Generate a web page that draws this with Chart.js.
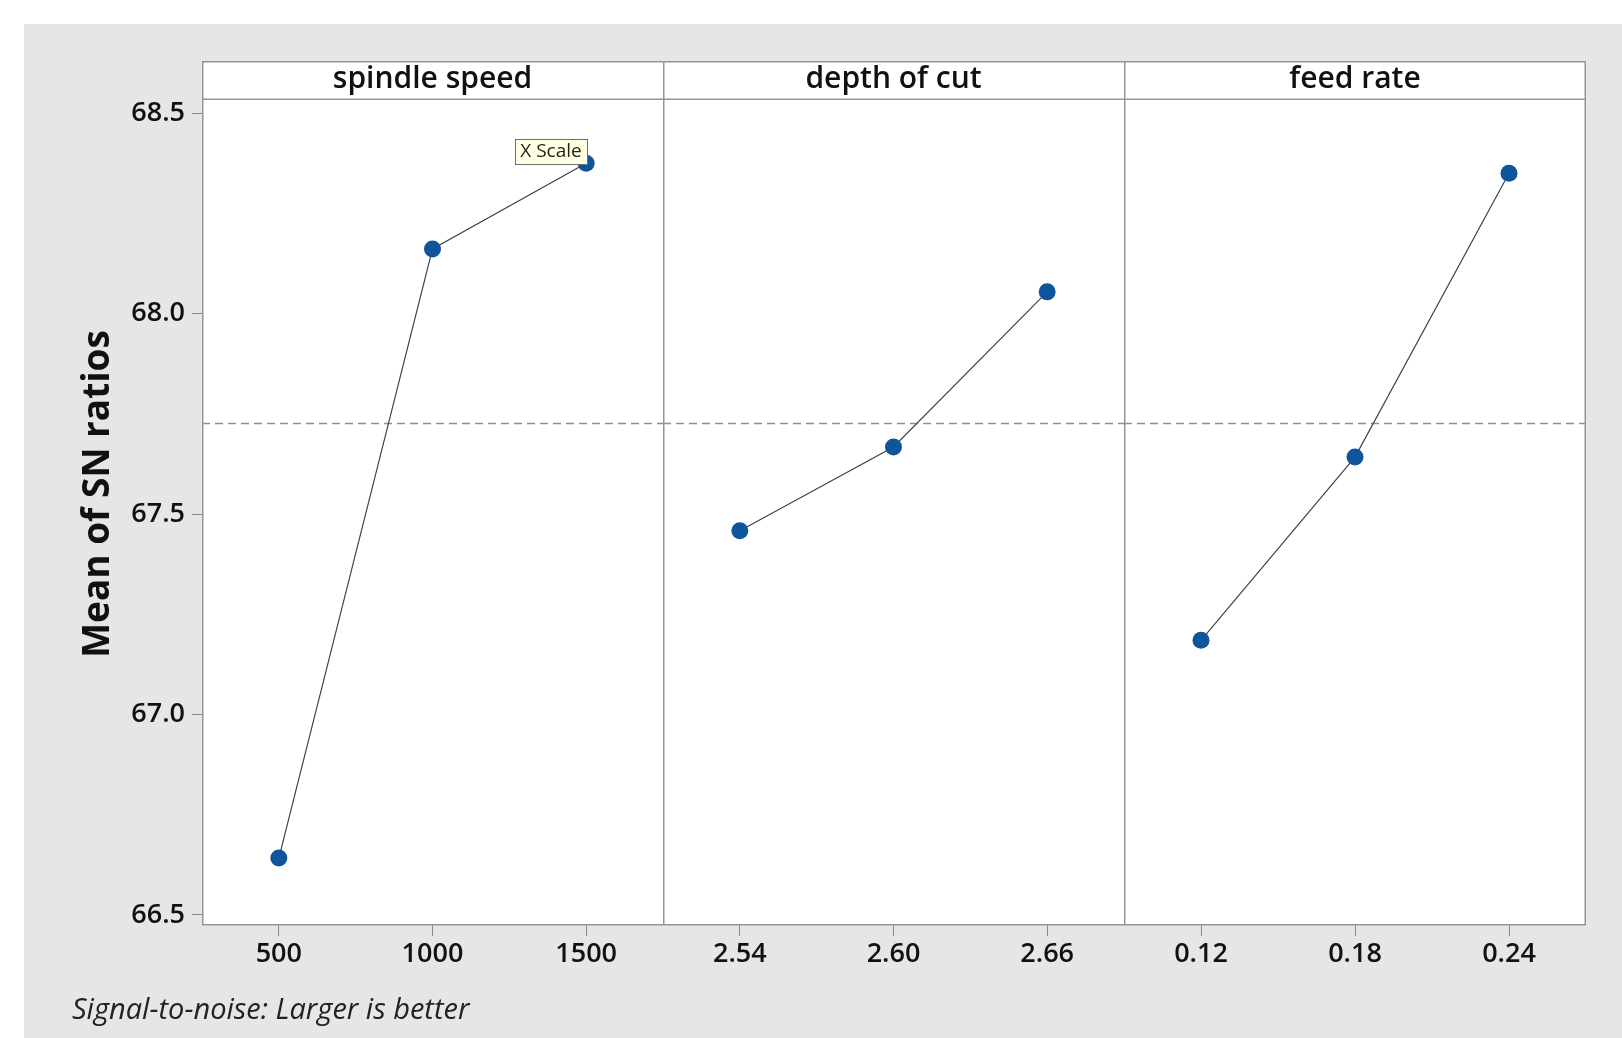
<!DOCTYPE html>
<html>
<head>
<meta charset="utf-8">
<script src="https://cdn.jsdelivr.net/npm/chart.js@4.4.1/dist/chart.umd.min.js"></script>
<style>
body { margin: 0; background: #fff; }
#bg { position: absolute; left: 24px; top: 24px; width: 1598px; height: 1014px; background: #e6e6e6; }
canvas { position: absolute; top: 24px; }
</style>
</head>
<body>
<div id="bg"></div>
<canvas id="c1" width="639" height="1014" style="left:24px"></canvas>
<canvas id="c2" width="461" height="1014" style="left:663px"></canvas>
<canvas id="c3" width="462" height="1014" style="left:1124px"></canvas>
<script>
// main effects data (means of SN ratios)
var panelTitles = ["spindle speed", "depth of cut", "feed rate"];
var spindleLevels = ["500", "1000", "1500"];
var spindleMeans = [66.642, 68.161, 68.375];
var depthLevels = ["2.54", "2.60", "2.66"];
var depthMeans = [67.458, 67.667, 68.054];
var feedLevels = ["0.12", "0.18", "0.24"];
var feedMeans = [67.185, 67.642, 68.350];
var yTicks = [66.5, 67.0, 67.5, 68.0, 68.5];
var grandMean = 67.726;
var yTitle = "Mean of SN ratios";
var footNote = "Signal-to-noise: Larger is better";

var FONT = "'Open Sans', 'Noto Sans', sans-serif";
var frameColor = "#959595";

//Plugin drawing the panel frame, header strip and reference line
var panelPlugin = {
    id: "panelFrame",
    beforeDraw: function (chart, args, opts) {
        var a = chart.chartArea, ctx = chart.ctx;
        ctx.save();
        ctx.fillStyle = "#ffffff";
        ctx.fillRect(a.left, 37, a.right - a.left, a.bottom - 37);
        ctx.restore();
    },
    beforeDatasetsDraw: function (chart, args, opts) {
        var a = chart.chartArea, ctx = chart.ctx;
        var y = Math.round(chart.scales.y.getPixelForValue(grandMean)) + 0.5;
        ctx.save();
        ctx.strokeStyle = "#909090";
        ctx.lineWidth = 1.5;
        ctx.setLineDash([8, 5]);
        ctx.beginPath();
        ctx.moveTo(a.left, y);
        ctx.lineTo(a.right, y);
        ctx.stroke();
        ctx.restore();
    },
    afterDraw: function (chart, args, opts) {
        var a = chart.chartArea, ctx = chart.ctx;
        ctx.save();
        ctx.strokeStyle = frameColor;
        ctx.lineWidth = 1.5;
        ctx.beginPath();
        ctx.moveTo(a.left, 37.75); ctx.lineTo(a.right, 37.75);
        ctx.moveTo(a.left, 75.25); ctx.lineTo(a.right, 75.25);
        ctx.moveTo(a.left, a.bottom - 0.25); ctx.lineTo(a.right, a.bottom - 0.25);
        ctx.moveTo(a.left + 0.75, 37); ctx.lineTo(a.left + 0.75, a.bottom);
        if (opts.last) {
            ctx.moveTo(a.right - 0.75, 37); ctx.lineTo(a.right - 0.75, a.bottom);
        }
        ctx.stroke();

        ctx.fillStyle = "#111";
        ctx.font = "600 30px " + FONT;
        ctx.textAlign = "center";
        ctx.textBaseline = "middle";
        ctx.fillText(opts.title, (a.left + a.right) / 2, 55);

        if (opts.first) {
            // y axis title
            ctx.save();
            ctx.translate(74, 470);
            ctx.rotate(-Math.PI / 2);
            ctx.font = "bold 37px " + FONT;
            ctx.fillText(yTitle, 0, 0);
            ctx.restore();
            // footnote
            ctx.font = "italic 29px " + FONT;
            ctx.textAlign = "left";
            ctx.fillStyle = "#222";
            ctx.fillText(footNote, 48, 987);
            // hover label left in the screenshot
            ctx.fillStyle = "#ffffe1";
            ctx.fillRect(491, 115, 72, 25);
            ctx.strokeStyle = "#6e6e6e";
            ctx.lineWidth = 1;
            ctx.strokeRect(491.5, 115.5, 72, 25);
            ctx.fillStyle = "#222";
            ctx.font = "19px " + FONT;
            ctx.textAlign = "center";
            ctx.fillText("X Scale", 527, 128);
        }
        ctx.restore();
    }
};

function createPanel(canvasId, levels, means, title, first, last) {
    var canvas = document.getElementById(canvasId);
    return new Chart(canvas, {
        type: "line",
        data: {
            labels: levels,
            datasets: [{
                data: means,
                borderColor: "#3c4450",
                borderWidth: 1.2,
                pointRadius: 8.5,
                pointBackgroundColor: "#0f559c",
                pointBorderWidth: 0,
                tension: 0
            }]
        },
        options: {
            responsive: false,
            animation: false,
            devicePixelRatio: 1,
            layout: { autoPadding: false, padding: { top: 75, right: 0, bottom: 0, left: 0 } },
            plugins: {
                legend: { display: false },
                tooltip: { enabled: false },
                panelFrame: { title: title, first: first, last: last }
            },
            scales: {
                x: {
                    type: "category",
                    offset: true,
                    afterFit: function (scale) { scale.height = 113; },
                    border: { display: false },
                    grid: { drawOnChartArea: false, drawTicks: true, tickLength: 11, color: "#8a8a8a" },
                    ticks: { font: { family: FONT, size: 27, weight: "600" }, color: "#111", padding: 2, maxRotation: 0 }
                },
                y: {
                    display: first,
                    min: 66.475,
                    max: 68.535,
                    afterBuildTicks: function (scale) {
                        scale.ticks = yTicks.map(function (v) { return { value: v }; });
                    },
                    afterFit: function (scale) { scale.width = first ? 178 : 0; },
                    border: { display: false },
                    grid: { drawOnChartArea: false, drawTicks: true, tickLength: 10, color: "#8a8a8a" },
                    ticks: {
                        font: { family: FONT, size: 27, weight: "600" },
                        color: "#111",
                        padding: 7,
                        callback: function (v) { return Number(v).toFixed(1); }
                    }
                }
            }
        },
        plugins: [panelPlugin]
    });
}

createPanel("c1", spindleLevels, spindleMeans, panelTitles[0], true, false);
createPanel("c2", depthLevels, depthMeans, panelTitles[1], false, false);
createPanel("c3", feedLevels, feedMeans, panelTitles[2], false, true);
</script>
</body>
</html>
